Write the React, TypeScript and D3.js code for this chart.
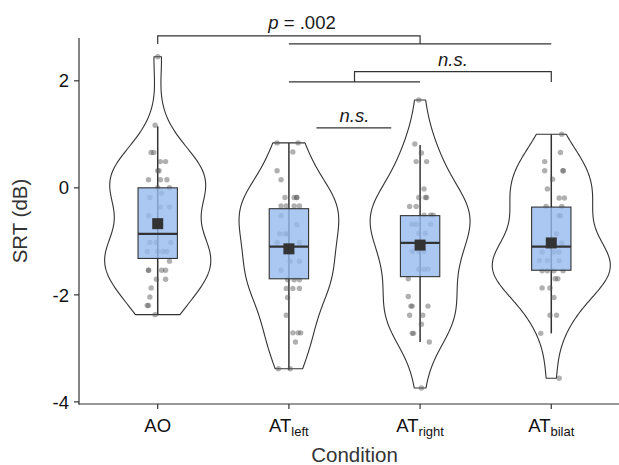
import React from "react";
import * as d3 from "d3";

// conditions on the x axis
const categories = ["AO", "ATleft", "ATright", "ATbilat"];
const labelMain = ["AO", "AT", "AT", "AT"];
const labelSub = ["", "left", "right", "bilat"];

// individual SRT values (dB)
const srtAO = [2.45, 1.17, 0.66, 0.66, 0.49, 0.49, 0.32, 0.32, 0.15, 0.15, 0.15, 0.0, 0.0, -0.1, -0.18, -0.36, -0.36, -0.52, -0.68, -1.02, -1.02, -1.02, -1.19, -1.19, -1.19, -1.19, -1.37, -1.54, -1.54, -1.54, -1.54, -1.71, -1.71, -1.87, -2.04, -2.2, -2.2, -2.37];
const srtLeft = [0.84, 0.84, 0.67, 0.32, 0.15, -0.18, -0.18, -0.18, -0.18, -0.34, -0.34, -0.34, -0.34, -0.52, -0.69, -0.86, -0.86, -0.86, -1.02, -1.02, -1.18, -1.37, -1.37, -1.54, -1.72, -1.72, -1.72, -1.88, -1.88, -1.88, -2.05, -2.38, -2.71, -2.71, -2.71, -2.88, -3.38, -3.38];
const srtRight = [1.64, 0.82, 0.65, 0.49, 0.49, -0.02, -0.18, -0.18, -0.18, -0.35, -0.35, -0.51, -0.51, -0.51, -0.68, -0.68, -0.68, -0.85, -0.85, -1.19, -1.19, -1.19, -1.52, -1.52, -1.52, -1.7, -2.03, -2.21, -2.21, -2.21, -2.38, -2.38, -2.55, -2.72, -2.72, -2.88, -3.74];
const srtBilat = [1.0, 0.66, 0.49, 0.32, 0.32, 0.32, 0.16, -0.02, -0.19, -0.19, -0.35, -0.35, -0.52, -0.52, -0.86, -1.03, -1.2, -1.2, -1.2, -1.36, -1.36, -1.36, -1.55, -1.55, -1.55, -1.55, -1.7, -1.7, -1.87, -1.87, -2.05, -2.38, -2.38, -2.72, -3.56];

// horizontal jitter of each point, percent of the category step
const jitAO = [0, -2, -5, -3, 2, 6, 0, 1, -7, 2, 7, 0, 9, 3, -6, 2, 9, -7, 0, -6, -1, 10, -8, 0, 4, 7, 9, -7, -7, 3, 6, -1, 6, -5, -6, -8, -7, -2];
const jitLeft = [-9, 7, 3, -9, -6, -3, 4, 6, 6, -6, -2, 4, 8, -6, 6, -7, -3, -1, -9, 8, 1, 1, 8, -6, -1, 4, 8, -2, 3, 8, -1, -2, 3, 7, 9, 5, -8, 1];
const jitRight = [-1, -4, 1, -3, 5, 3, -1, 4, 5, -8, -3, 3, 8, 10, -6, -3, 8, -1, 4, -6, -1, 3, -1, 3, 6, -9, -9, -7, -6, 6, -8, 2, 1, -6, -5, 7, 1];
const jitBilat = [8, 7, -5, -5, 9, 9, 1, -3, 6, 10, -4, 8, 6, 7, 4, 8, -7, 2, 6, -9, -3, 6, -7, -3, 2, 9, 3, 5, -7, -1, 2, -1, 4, -8, 6];

// box summaries per condition
const q1 = [-1.32, -1.7, -1.66, -1.54];
const median = [-0.86, -1.1, -1.03, -1.1];
const q3 = [0.0, -0.39, -0.52, -0.36];
const whiskLo = [-2.38, -3.4, -2.88, -2.72];
const whiskHi = [1.15, 0.84, 0.8, 1.0];
const means = [-0.67, -1.14, -1.07, -1.03];

const yTicks = [-4, -2, 0, 2];

const groups = [srtAO, srtLeft, srtRight, srtBilat];
const jitters = [jitAO, jitLeft, jitRight, jitBilat];

const W = 619;
const H = 465;
const font = "'Liberation Sans', Arial, Helvetica, sans-serif";
const ink = "#333333";

function bwNrd0(x: number[]) {
  const s = x.slice().sort(d3.ascending);
  const iqr = (d3.quantile(s, 0.75) as number) - (d3.quantile(s, 0.25) as number);
  const sd = d3.deviation(s) as number;
  return 0.9 * Math.min(sd, iqr / 1.34) * Math.pow(x.length, -0.2);
}

function density(x: number[], n = 256) {
  const bw = bwNrd0(x);
  const [lo, hi] = d3.extent(x) as [number, number];
  const k = 1 / (bw * Math.sqrt(2 * Math.PI));
  return d3.range(n).map((i) => {
    const v = lo + ((hi - lo) * i) / (n - 1);
    const d = (d3.mean(x, (xi) => Math.exp(-0.5 * ((v - xi) / bw) ** 2)) as number) * k;
    return { v, d };
  });
}

export default function App() {
  const x = d3.scalePoint<string>().domain(categories).range([79, 630]).padding(0.6);
  const step = x.step();
  const y = d3.scaleLinear().domain([-4.04, 2.8]).range([404, 38]);
  const xAt = (k: number) => (x(categories[0]) as number) + k * step;

  const dens = groups.map((g) => density(g));
  const dMax = d3.max(dens, (ds) => d3.max(ds, (p) => p.d)) as number;
  const wScale = d3.scaleLinear().domain([0, dMax]).range([0, 0.45 * step]);

  const boxHalf = 0.15 * step;
  const sq = 11;

  const seg = (k0: number, k1: number, v: number) => `M${xAt(k0)},${y(v)}H${xAt(k1)}`;
  const bracket = (k0: number, k1: number, top: number, bot: number) =>
    `M${xAt(k0)},${y(bot)}V${y(top)}H${xAt(k1)}V${y(bot)}`;

  return (
    <svg width={W} height={H} style={{ position: "absolute", left: 0, top: 0, background: "#fff" }} fontFamily={font}>
      {categories.map((c, i) => {
        const cx = x(c) as number;
        const area = d3
          .area<{ v: number; d: number }>()
          .x0((p) => cx - wScale(p.d))
          .x1((p) => cx + wScale(p.d))
          .y((p) => y(p.v));
        return (
          <g key={c}>
            <path d={area(dens[i]) as string} fill="#fff" stroke={ink} strokeWidth={1.1} strokeLinejoin="round" />
            <line x1={cx} x2={cx} y1={y(whiskHi[i])} y2={y(whiskLo[i])} stroke={ink} strokeWidth={1.5} />
            {groups[i].map((v, j) => (
              <circle key={j} cx={cx + (jitters[i][j] / 100) * step} cy={y(v)} r={2.7} fill="#5a5a5a" fillOpacity={0.48} />
            ))}
            <rect
              x={cx - boxHalf}
              y={y(q3[i])}
              width={2 * boxHalf}
              height={y(q1[i]) - y(q3[i])}
              fill="#95baef"
              fillOpacity={0.8}
              stroke={ink}
              strokeWidth={1.1}
            />
            <line x1={cx - boxHalf} x2={cx + boxHalf} y1={y(median[i])} y2={y(median[i])} stroke={ink} strokeWidth={2.2} />
            <rect x={cx - sq / 2} y={y(means[i]) - sq / 2} width={sq} height={sq} fill={ink} />
          </g>
        );
      })}

      {/* significance brackets */}
      <g fill="none" stroke={ink} strokeWidth={1.2}>
        <path d={bracket(0, 2, 2.84, 2.69)} />
        <path d={seg(1, 3, 2.69)} />
        <path d={bracket(1.5, 3, 2.17, 1.98)} />
        <path d={seg(1, 2, 1.98)} />
        <path d={seg(1.21, 1.78, 1.12)} />
      </g>
      <g fontSize={18.5} fill="#1a1a1a" textAnchor="middle">
        <text x={xAt(1.1)} y={y(2.84) - 7}>
          <tspan fontStyle="italic">p</tspan> = .002
        </text>
        <text x={xAt(2.25)} y={y(2.17) - 6} fontStyle="italic">n.s.</text>
        <text x={xAt(1.5)} y={y(1.12) - 6} fontStyle="italic">n.s.</text>
      </g>

      {/* y axis */}
      <line x1={79} x2={79} y1={38} y2={404.5} stroke={ink} strokeWidth={1.2} />
      {yTicks.map((t) => (
        <g key={t}>
          <line x1={74} x2={79} y1={y(t)} y2={y(t)} stroke={ink} strokeWidth={1.2} />
          <text x={69} y={y(t)} dy="0.36em" textAnchor="end" fontSize={18.5} fill="#111">
            {t}
          </text>
        </g>
      ))}
      <text transform={`translate(27,${(38 + 404) / 2}) rotate(-90)`} textAnchor="middle" fontSize={20.5} fill={ink}>
        SRT (dB)
      </text>

      {/* x axis */}
      <line x1={78.4} x2={W} y1={404} y2={404} stroke={ink} strokeWidth={1.2} />
      {categories.map((c, i) => (
        <g key={c}>
          <line x1={x(c)} x2={x(c)} y1={404} y2={409} stroke={ink} strokeWidth={1.2} />
          <text x={x(c)} y={432} textAnchor="middle" fontSize={18.5} fill="#111">
            {labelMain[i]}
            {labelSub[i] && (
              <tspan fontSize={13} dy={4}>
                {labelSub[i]}
              </tspan>
            )}
          </text>
        </g>
      ))}
      <text x={(79 + 630) / 2} y={462} textAnchor="middle" fontSize={20.5} fill={ink}>
        Condition
      </text>
    </svg>
  );
}
